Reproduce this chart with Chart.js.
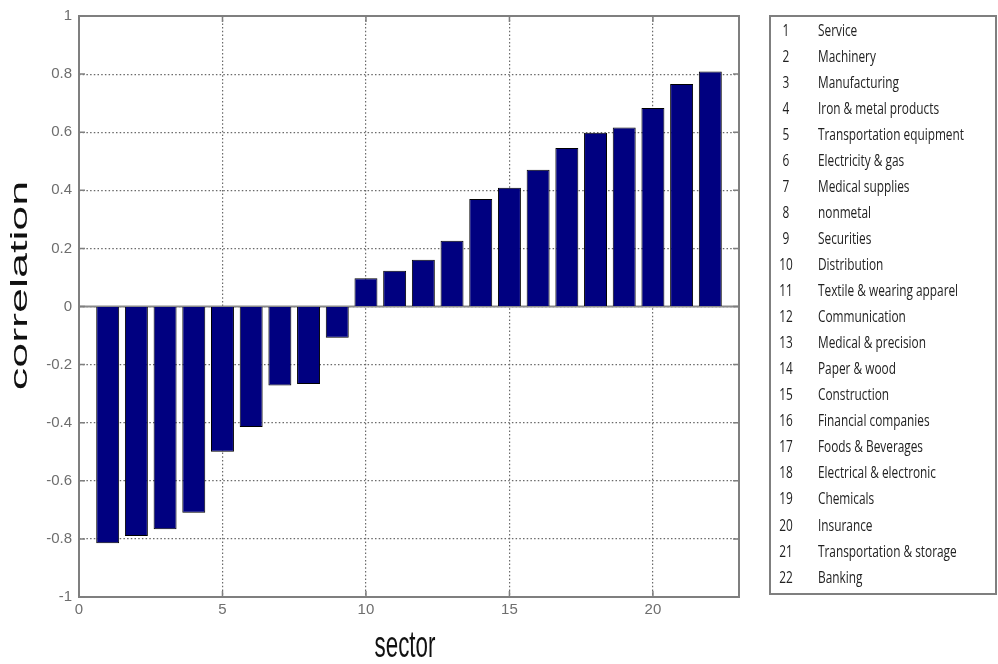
<!DOCTYPE html>
<html>
<head>
<meta charset="utf-8">
<script src="https://cdn.jsdelivr.net/npm/chart.js@4.4.1/dist/chart.umd.min.js"></script>
<style>
  html, body { margin: 0; padding: 0; background: #fff; }
  #wrap { width: 998px; height: 664px; position: relative; }
</style>
</head>
<body>
<div id="wrap"><canvas id="myChart"></canvas></div>
<script>
const sectorIds = [1, 2, 3, 4, 5, 6, 7, 8, 9, 10, 11, 12, 13, 14, 15, 16, 17, 18, 19, 20, 21, 22]

const sectors = [
    'Service',
    'Machinery',
    'Manufacturing',
    'Iron & metal products',
    'Transportation equipment',
    'Electricity & gas',
    'Medical supplies',
    'nonmetal',
    'Securities',
    'Distribution',
    'Textile & wearing apparel',
    'Communication',
    'Medical & precision',
    'Paper & wood',
    'Construction',
    'Financial companies',
    'Foods & Beverages',
    'Electrical & electronic',
    'Chemicals',
    'Insurance',
    'Transportation & storage',
    'Banking',
]

const correlation = [
    -0.815, -0.79, -0.767, -0.71, -0.50, -0.415, -0.272, -0.267, -0.108,
    0.097, 0.123, 0.161, 0.226, 0.370, 0.409, 0.471, 0.546, 0.598, 0.616, 0.683, 0.766, 0.809,
]

const xTicks = [0, 5, 10, 15, 20]
const yTicks = [-1, -0.8, -0.6, -0.4, -0.2, 0, 0.2, 0.4, 0.6, 0.8, 1]

const xTitle = 'sector'
const yTitle = 'correlation'

const ctx = document.getElementById('myChart')

// frame, zero line, inward ticks, axis titles and the sector key box
const figurePlugin = {
    id: 'figure',
    beforeDatasetsDraw(chart) {
        const c = chart.ctx
        const a = chart.chartArea
        const y0 = chart.scales.y.getPixelForValue(0)
        c.save()
        c.strokeStyle = '#8a8a8a'
        c.lineWidth = 2
        c.beginPath()
        c.moveTo(a.left, y0)
        c.lineTo(a.right, y0)
        c.stroke()
        c.restore()
    },
    afterDraw(chart) {
        const c = chart.ctx
        const a = chart.chartArea
        const sx = chart.scales.x
        const sy = chart.scales.y
        c.save()
        c.strokeStyle = '#7f7f7f'
        c.lineWidth = 2
        c.strokeRect(a.left, a.top, a.right - a.left, a.bottom - a.top)

        c.lineWidth = 1.5
        c.beginPath()
        yTicks.forEach(v => {
            const p = sy.getPixelForValue(v)
            c.moveTo(a.left, p); c.lineTo(a.left + 6, p)
            c.moveTo(a.right, p); c.lineTo(a.right - 6, p)
        })
        xTicks.forEach(v => {
            const p = sx.getPixelForValue(v)
            c.moveTo(p, a.bottom); c.lineTo(p, a.bottom - 6)
            c.moveTo(p, a.top); c.lineTo(p, a.top + 6)
        })
        c.stroke()

        // axis titles (figure was squeezed horizontally)
        c.fillStyle = '#111'
        c.textAlign = 'center'
        c.textBaseline = 'middle'
        c.save()
        c.translate(20, (a.top + a.bottom) / 2 - 21)
        c.rotate(-Math.PI / 2)
        c.scale(1.87, 1)
        c.font = '24px "Liberation Sans", Arial, sans-serif'
        c.fillText(yTitle, 0, 0)
        c.restore()

        c.save()
        c.translate((a.left + a.right) / 2 - 4, 657)
        c.scale(0.62, 1)
        c.textBaseline = 'alphabetic'
        c.font = '36px "Liberation Sans", Arial, sans-serif'
        c.fillText(xTitle, 0, 0)
        c.restore()

        // key box
        c.strokeStyle = '#7f7f7f'
        c.lineWidth = 2
        c.strokeRect(770, 16, 226, 578)
        c.fillStyle = '#222'
        c.font = '16px "Open Sans", "Noto Sans", sans-serif'
        c.textBaseline = 'middle'
        sectors.forEach((name, i) => {
            const y = 31 + i * 26.05
            c.save()
            c.translate(786, y)
            c.scale(0.74, 1)
            c.textAlign = 'center'
            c.fillText(String(sectorIds[i]), 0, 0)
            c.restore()
            c.save()
            c.translate(818, y)
            c.scale(0.74, 1)
            c.textAlign = 'left'
            c.fillText(name, 0, 0)
            c.restore()
        })
        c.restore()
    }
}

const data = {
    datasets: [{
        label: yTitle,
        data: sectorIds.map((id, i) => ({ x: id, y: correlation[i] })),
        backgroundColor: '#000080',
        borderColor: '#000000',
        borderWidth: 1,
        barPercentage: 0.8,
        categoryPercentage: 1,
    }]
}

const tickFont = { family: '"Liberation Sans", Arial, sans-serif', size: 15 }

const config = {
    type: 'bar',
    data: data,
    options: {
        responsive: true,
        maintainAspectRatio: false,
        animation: false,
        layout: {
            padding: { left: 0, right: 259, top: 15, bottom: 0 }
        },
        plugins: {
            legend: { display: false },
            tooltip: { enabled: false },
        },
        scales: {
            x: {
                type: 'linear',
                min: 0,
                max: 23,
                offset: false,
                afterBuildTicks: s => { s.ticks = xTicks.map(v => ({ value: v })) },
                afterFit: s => { s.height = 67 },
                grid: { color: '#6a6a6a', lineWidth: 1.2, drawTicks: false, offset: false },
                border: { display: false, dash: [1.5, 2.2] },
                ticks: { font: tickFont, color: '#6e6e6e', padding: 4, maxRotation: 0, callback: v => String(v) },
            },
            y: {
                min: -1,
                max: 1,
                afterBuildTicks: s => { s.ticks = yTicks.map(v => ({ value: v })) },
                afterFit: s => { s.width = 79 },
                grid: { color: '#6a6a6a', lineWidth: 1.2, drawTicks: false },
                border: { display: false, dash: [1.5, 2.2] },
                ticks: { font: tickFont, color: '#6e6e6e', padding: 7, callback: v => String(v) },
            }
        }
    },
    plugins: [figurePlugin],
}

const myChart = new Chart(ctx, config)
</script>
</body>
</html>
